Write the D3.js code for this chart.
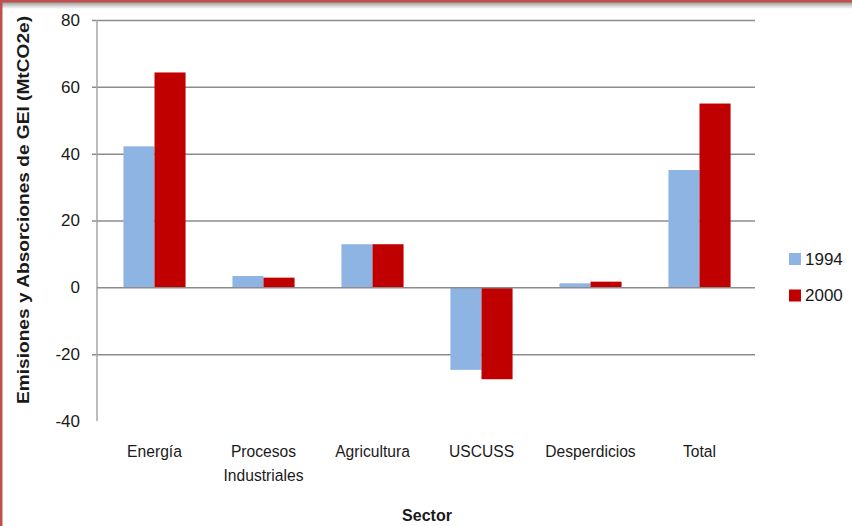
<!DOCTYPE html>
<html>
<head>
<meta charset="utf-8">
<script src="https://cdn.jsdelivr.net/npm/d3@7"></script>
<style>
  body { margin: 0; background: #fff; }
  svg { display: block; }
  text { font-family: "Liberation Sans", Arial, sans-serif; fill: #1a1a1a; }
</style>
</head>
<body>
<div id="container"></div>
<script>
// data
var sectors = ["Energía", "Procesos Industriales", "Agricultura", "USCUSS", "Desperdicios", "Total"];
var years = ["1994", "2000"];
var values1994 = [42.2, 3.4, 12.9, -24.7, 1.2, 35.1];
var values2000 = [64.3, 2.9, 12.9, -27.5, 1.7, 55.0];
var yTicks = [-40, -20, 0, 20, 40, 60, 80];
var colors = ["#8eb4e3", "#c00000"];

var width = 852, height = 526;
var plot = {left: 97, right: 754, top: 20, bottom: 421};

var svg = d3.select("#container")
    .append("svg")
    .attr("width", width)
    .attr("height", height);

// frame: red border with a bit of shadow on the top
var grad = svg.append("defs").append("linearGradient")
    .attr("id", "shade").attr("x1", 0).attr("y1", 0).attr("x2", 0).attr("y2", 1);
grad.append("stop").attr("offset", "0%").attr("stop-color", "#9a9a9a");
grad.append("stop").attr("offset", "100%").attr("stop-color", "#ffffff");
svg.append("rect").attr("x", 0).attr("y", 2).attr("width", width).attr("height", 7).attr("fill", "url(#shade)");
svg.append("rect").attr("x", 0).attr("y", 0).attr("width", width).attr("height", 2.5).attr("fill", "#c0504d");
svg.append("rect").attr("x", 0).attr("y", 0).attr("width", 2.5).attr("height", height).attr("fill", "#c0504d");

var y = d3.scaleLinear().domain([-40, 80]).range([plot.bottom, plot.top]);
var x0 = d3.scaleBand().domain(sectors).range([plot.left + 3, plot.right]).paddingInner(0.43).paddingOuter(0.215);
var x1 = d3.scaleBand().domain(years).range([0, x0.bandwidth()]);

// gridlines (except zero, drawn as the axis, and -40)
svg.append("g").selectAll("line")
    .data(yTicks.filter(d => d !== 0 && d !== -40))
    .enter().append("line")
    .attr("x1", plot.left - 5).attr("x2", plot.right + 1)
    .attr("y1", d => y(d) + 0.5).attr("y2", d => y(d) + 0.5)
    .attr("stroke", "#8c8c8c").attr("stroke-width", 1.5);

// y tick labels
svg.append("g").selectAll("text")
    .data(yTicks)
    .enter().append("text")
    .attr("x", 80)
    .attr("y", d => y(d))
    .attr("dy", "0.35em")
    .attr("text-anchor", "end")
    .style("font-size", "17px")
    .text(d => d);

// bars
var groups = svg.append("g").selectAll("g")
    .data(sectors)
    .enter().append("g")
    .attr("transform", d => "translate(" + x0(d) + ",0)");

groups.selectAll("rect")
    .data((d, i) => [values1994[i], values2000[i]])
    .enter().append("rect")
    .attr("x", (d, j) => x1(years[j]))
    .attr("width", x1.bandwidth())
    .attr("y", d => y(Math.max(0, d)))
    .attr("height", d => Math.abs(y(d) - y(0)))
    .attr("fill", (d, j) => colors[j]);

// axes lines
svg.append("line")
    .attr("x1", plot.left).attr("x2", plot.left)
    .attr("y1", plot.top).attr("y2", plot.bottom)
    .attr("stroke", "#a6a6a6").attr("stroke-width", 1.5);
svg.append("line")
    .attr("x1", plot.left).attr("x2", plot.right + 1)
    .attr("y1", y(0) + 0.5).attr("y2", y(0) + 0.5)
    .attr("stroke", "#8c8c8c").attr("stroke-width", 1.5);

// category labels
var catLabels = svg.append("g").selectAll("text")
    .data(sectors)
    .enter().append("text")
    .attr("text-anchor", "middle")
    .attr("transform", d => "translate(" + (x0(d) + x0.bandwidth() / 2) + ",457) scale(0.92,1)")
    .style("font-size", "17px");
catLabels.selectAll("tspan")
    .data(d => d.split(" "))
    .enter().append("tspan")
    .attr("x", 0)
    .attr("dy", (d, i) => i ? 24 : 0)
    .text(d => d);

// axis titles
svg.append("text")
    .attr("text-anchor", "middle")
    .attr("transform", "translate(29,210) rotate(-90)")
    .attr("textLength", 388)
    .attr("lengthAdjust", "spacingAndGlyphs")
    .style("font-size", "16px")
    .style("font-weight", "bold")
    .text("Emisiones y Absorciones de GEI (MtCO2e)");

svg.append("text")
    .attr("x", 427).attr("y", 521)
    .attr("text-anchor", "middle")
    .style("font-size", "16px")
    .style("font-weight", "bold")
    .text("Sector");

// legend
var legend = svg.append("g").selectAll("g")
    .data(years)
    .enter().append("g")
    .attr("transform", (d, i) => "translate(789," + (253 + i * 36.5) + ")");
legend.append("rect")
    .attr("width", 12).attr("height", 12)
    .attr("fill", (d, i) => colors[i]);
legend.append("text")
    .attr("x", 16).attr("y", 6)
    .attr("dy", "0.35em")
    .style("font-size", "17px")
    .text(d => d);
</script>
</body>
</html>
